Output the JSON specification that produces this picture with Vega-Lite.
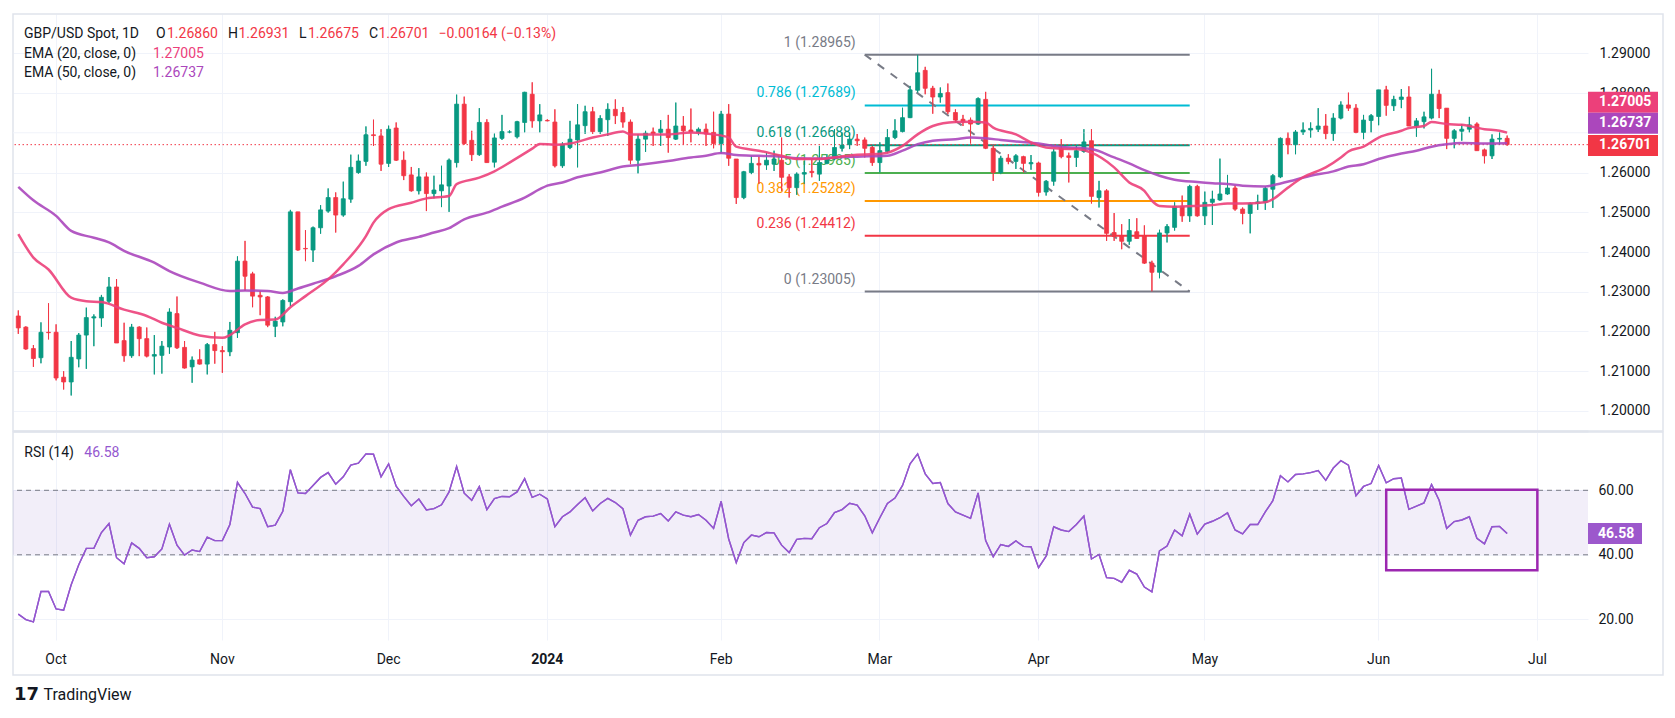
{
"$schema": "https://vega.github.io/schema/vega-lite/v6.json",
"background": "#ffffff",
"padding": {"left": 12, "top": 13, "right": 0, "bottom": 0},
"autosize": {"type": "pad"},
"config": {
  "view": {"stroke": null},
  "font": "Roboto",
  "axis": {"labelFont": "Roboto", "labelFontSize": 14, "labelColor": "#131722", "gridColor": "#f0f3fa", "gridWidth": 1, "ticks": false, "domain": false, "title": null},
  "text": {"font": "Roboto", "fontSize": 14, "baseline": "middle", "align": "left"}
},
"datasets": {
"px": [
{"d":"2023-09-25","o":1.2239,"h":1.2253,"l":1.2194,"c":1.2209,"r":21.6},
{"d":"2023-09-26","o":1.2211,"h":1.2213,"l":1.2154,"c":1.2156,"r":19.9},
{"d":"2023-09-27","o":1.2157,"h":1.2166,"l":1.2111,"c":1.2132,"r":19.2},
{"d":"2023-09-28","o":1.2134,"h":1.2223,"l":1.2120,"c":1.2198,"r":28.6},
{"d":"2023-09-29","o":1.2198,"h":1.2271,"l":1.2180,"c":1.2197,"r":28.6},
{"d":"2023-10-02","o":1.2198,"h":1.2218,"l":1.2077,"c":1.2083,"r":23.2},
{"d":"2023-10-03","o":1.2085,"h":1.2100,"l":1.2054,"c":1.2073,"r":22.8},
{"d":"2023-10-04","o":1.2073,"h":1.2176,"l":1.2039,"c":1.2135,"r":30.7},
{"d":"2023-10-05","o":1.2131,"h":1.2196,"l":1.2110,"c":1.2191,"r":36.9},
{"d":"2023-10-06","o":1.2191,"h":1.2260,"l":1.2106,"c":1.2235,"r":42.0},
{"d":"2023-10-09","o":1.2234,"h":1.2243,"l":1.2163,"c":1.2237,"r":42.0},
{"d":"2023-10-10","o":1.2234,"h":1.2292,"l":1.2212,"c":1.2286,"r":46.9},
{"d":"2023-10-11","o":1.2276,"h":1.2337,"l":1.2271,"c":1.2312,"r":49.7},
{"d":"2023-10-12","o":1.2312,"h":1.2332,"l":1.2171,"c":1.2171,"r":39.1},
{"d":"2023-10-13","o":1.2177,"h":1.2222,"l":1.2124,"c":1.2139,"r":37.2},
{"d":"2023-10-16","o":1.2139,"h":1.2219,"l":1.2134,"c":1.2211,"r":43.7},
{"d":"2023-10-17","o":1.2211,"h":1.2213,"l":1.2138,"c":1.2182,"r":42.0},
{"d":"2023-10-18","o":1.2182,"h":1.2210,"l":1.2135,"c":1.2138,"r":39.1},
{"d":"2023-10-19","o":1.2138,"h":1.2191,"l":1.2092,"c":1.2142,"r":39.4},
{"d":"2023-10-20","o":1.2140,"h":1.2176,"l":1.2094,"c":1.2163,"r":41.8},
{"d":"2023-10-23","o":1.2161,"h":1.2258,"l":1.2144,"c":1.2249,"r":49.5},
{"d":"2023-10-24","o":1.2245,"h":1.2288,"l":1.2156,"c":1.2159,"r":43.0},
{"d":"2023-10-25","o":1.2160,"h":1.2176,"l":1.2107,"c":1.2108,"r":39.9},
{"d":"2023-10-26","o":1.2111,"h":1.2137,"l":1.2071,"c":1.2128,"r":41.5},
{"d":"2023-10-27","o":1.2129,"h":1.2155,"l":1.2117,"c":1.2118,"r":41.0},
{"d":"2023-10-30","o":1.2118,"h":1.2171,"l":1.2092,"c":1.2167,"r":45.5},
{"d":"2023-10-31","o":1.2167,"h":1.2199,"l":1.2119,"c":1.2152,"r":44.4},
{"d":"2023-11-01","o":1.2152,"h":1.2163,"l":1.2096,"c":1.2149,"r":44.4},
{"d":"2023-11-02","o":1.2149,"h":1.2224,"l":1.2138,"c":1.2203,"r":49.4},
{"d":"2023-11-03","o":1.2197,"h":1.2389,"l":1.2184,"c":1.2377,"r":62.5},
{"d":"2023-11-06","o":1.2377,"h":1.2428,"l":1.2302,"c":1.2339,"r":59.0},
{"d":"2023-11-07","o":1.2345,"h":1.2350,"l":1.2261,"c":1.2289,"r":54.8},
{"d":"2023-11-08","o":1.2291,"h":1.2302,"l":1.2241,"c":1.2287,"r":54.3},
{"d":"2023-11-09","o":1.2287,"h":1.2289,"l":1.2211,"c":1.2216,"r":48.7},
{"d":"2023-11-10","o":1.2213,"h":1.2237,"l":1.2186,"c":1.2226,"r":49.2},
{"d":"2023-11-13","o":1.2224,"h":1.2281,"l":1.2213,"c":1.2278,"r":53.5},
{"d":"2023-11-14","o":1.2275,"h":1.2506,"l":1.2264,"c":1.2501,"r":66.4},
{"d":"2023-11-15","o":1.2501,"h":1.2501,"l":1.2403,"c":1.2405,"r":59.2},
{"d":"2023-11-16","o":1.2409,"h":1.2455,"l":1.2377,"c":1.2408,"r":59.0},
{"d":"2023-11-17","o":1.2405,"h":1.2464,"l":1.2375,"c":1.2461,"r":61.5},
{"d":"2023-11-20","o":1.2461,"h":1.2518,"l":1.2446,"c":1.2506,"r":64.0},
{"d":"2023-11-21","o":1.2503,"h":1.2560,"l":1.2499,"c":1.2537,"r":65.5},
{"d":"2023-11-22","o":1.2537,"h":1.2550,"l":1.2449,"c":1.2493,"r":61.9},
{"d":"2023-11-23","o":1.2493,"h":1.2577,"l":1.2489,"c":1.2534,"r":64.2},
{"d":"2023-11-24","o":1.2533,"h":1.2645,"l":1.2524,"c":1.2613,"r":67.8},
{"d":"2023-11-27","o":1.2600,"h":1.2645,"l":1.2597,"c":1.2629,"r":68.4},
{"d":"2023-11-28","o":1.2628,"h":1.2716,"l":1.2617,"c":1.2695,"r":71.3},
{"d":"2023-11-29","o":1.2695,"h":1.2733,"l":1.2667,"c":1.2693,"r":71.2},
{"d":"2023-11-30","o":1.2692,"h":1.2709,"l":1.2604,"c":1.2621,"r":64.2},
{"d":"2023-12-01","o":1.2623,"h":1.2718,"l":1.2614,"c":1.2709,"r":68.2},
{"d":"2023-12-04","o":1.2712,"h":1.2726,"l":1.2629,"c":1.2631,"r":61.3},
{"d":"2023-12-05","o":1.2631,"h":1.2653,"l":1.2581,"c":1.2592,"r":58.1},
{"d":"2023-12-06","o":1.2594,"h":1.2614,"l":1.2552,"c":1.2554,"r":55.2},
{"d":"2023-12-07","o":1.2554,"h":1.2611,"l":1.2545,"c":1.2589,"r":57.3},
{"d":"2023-12-08","o":1.2589,"h":1.2600,"l":1.2503,"c":1.2547,"r":53.9},
{"d":"2023-12-11","o":1.2547,"h":1.2592,"l":1.2535,"c":1.2556,"r":54.3},
{"d":"2023-12-12","o":1.2554,"h":1.2617,"l":1.2513,"c":1.2569,"r":55.5},
{"d":"2023-12-13","o":1.2566,"h":1.2635,"l":1.2501,"c":1.2631,"r":59.5},
{"d":"2023-12-14","o":1.2625,"h":1.2796,"l":1.2613,"c":1.2772,"r":67.4},
{"d":"2023-12-15","o":1.2772,"h":1.2791,"l":1.2670,"c":1.2673,"r":59.1},
{"d":"2023-12-18","o":1.2681,"h":1.2705,"l":1.2629,"c":1.2645,"r":56.9},
{"d":"2023-12-19","o":1.2645,"h":1.2762,"l":1.2642,"c":1.2726,"r":61.2},
{"d":"2023-12-20","o":1.2726,"h":1.2734,"l":1.2625,"c":1.2625,"r":54.0},
{"d":"2023-12-21","o":1.2626,"h":1.2698,"l":1.2613,"c":1.2687,"r":57.4},
{"d":"2023-12-22","o":1.2686,"h":1.2745,"l":1.2682,"c":1.2703,"r":58.1},
{"d":"2023-12-25","o":1.2702,"h":1.2706,"l":1.2699,"c":1.2702,"r":58.0},
{"d":"2023-12-26","o":1.2690,"h":1.2730,"l":1.2686,"c":1.2728,"r":59.5},
{"d":"2023-12-27","o":1.2726,"h":1.2803,"l":1.2701,"c":1.2802,"r":63.6},
{"d":"2023-12-28","o":1.2797,"h":1.2827,"l":1.2713,"c":1.2730,"r":57.8},
{"d":"2023-12-29","o":1.2730,"h":1.2772,"l":1.2701,"c":1.2745,"r":58.8},
{"d":"2024-01-01","o":1.2731,"h":1.2734,"l":1.2729,"c":1.2730,"r":57.3},
{"d":"2024-01-02","o":1.2727,"h":1.2759,"l":1.2613,"c":1.2617,"r":48.7},
{"d":"2024-01-03","o":1.2617,"h":1.2676,"l":1.2612,"c":1.2671,"r":51.8},
{"d":"2024-01-04","o":1.2663,"h":1.2730,"l":1.2659,"c":1.2684,"r":53.3},
{"d":"2024-01-05","o":1.2682,"h":1.2772,"l":1.2613,"c":1.2720,"r":55.6},
{"d":"2024-01-08","o":1.2718,"h":1.2768,"l":1.2697,"c":1.2753,"r":57.7},
{"d":"2024-01-09","o":1.2753,"h":1.2765,"l":1.2697,"c":1.2703,"r":53.6},
{"d":"2024-01-10","o":1.2703,"h":1.2744,"l":1.2697,"c":1.2736,"r":55.9},
{"d":"2024-01-11","o":1.2733,"h":1.2774,"l":1.2692,"c":1.2759,"r":57.5},
{"d":"2024-01-12","o":1.2759,"h":1.2784,"l":1.2722,"c":1.2743,"r":56.2},
{"d":"2024-01-15","o":1.2751,"h":1.2765,"l":1.2713,"c":1.2727,"r":54.3},
{"d":"2024-01-16","o":1.2727,"h":1.2733,"l":1.2621,"c":1.2631,"r":46.1},
{"d":"2024-01-17","o":1.2631,"h":1.2696,"l":1.2598,"c":1.2684,"r":50.7},
{"d":"2024-01-18","o":1.2684,"h":1.2705,"l":1.2652,"c":1.2699,"r":51.8},
{"d":"2024-01-19","o":1.2702,"h":1.2713,"l":1.2667,"c":1.2698,"r":52.0},
{"d":"2024-01-22","o":1.2701,"h":1.2732,"l":1.2667,"c":1.2709,"r":52.8},
{"d":"2024-01-23","o":1.2709,"h":1.2745,"l":1.2650,"c":1.2688,"r":50.5},
{"d":"2024-01-24","o":1.2684,"h":1.2776,"l":1.2682,"c":1.2717,"r":53.3},
{"d":"2024-01-25","o":1.2717,"h":1.2742,"l":1.2671,"c":1.2705,"r":52.3},
{"d":"2024-01-26","o":1.2707,"h":1.2761,"l":1.2676,"c":1.2702,"r":51.8},
{"d":"2024-01-29","o":1.2701,"h":1.2713,"l":1.2694,"c":1.2709,"r":52.5},
{"d":"2024-01-30","o":1.2709,"h":1.2723,"l":1.2667,"c":1.2697,"r":50.7},
{"d":"2024-01-31","o":1.2701,"h":1.2753,"l":1.2661,"c":1.2673,"r":48.2},
{"d":"2024-02-01","o":1.2673,"h":1.2755,"l":1.2648,"c":1.2747,"r":56.6},
{"d":"2024-02-02","o":1.2747,"h":1.2772,"l":1.2617,"c":1.2636,"r":44.9},
{"d":"2024-02-05","o":1.2634,"h":1.2634,"l":1.2521,"c":1.2537,"r":37.6},
{"d":"2024-02-06","o":1.2537,"h":1.2604,"l":1.2533,"c":1.2602,"r":43.8},
{"d":"2024-02-07","o":1.2600,"h":1.2642,"l":1.2596,"c":1.2623,"r":46.1},
{"d":"2024-02-08","o":1.2623,"h":1.2640,"l":1.2571,"c":1.2619,"r":45.6},
{"d":"2024-02-09","o":1.2619,"h":1.2650,"l":1.2607,"c":1.2631,"r":46.9},
{"d":"2024-02-12","o":1.2621,"h":1.2655,"l":1.2604,"c":1.2634,"r":46.8},
{"d":"2024-02-13","o":1.2631,"h":1.2688,"l":1.2554,"c":1.2588,"r":43.0},
{"d":"2024-02-14","o":1.2589,"h":1.2596,"l":1.2537,"c":1.2562,"r":40.7},
{"d":"2024-02-15","o":1.2562,"h":1.2600,"l":1.2544,"c":1.2596,"r":44.8},
{"d":"2024-02-16","o":1.2596,"h":1.2629,"l":1.2571,"c":1.2600,"r":45.1},
{"d":"2024-02-19","o":1.2603,"h":1.2636,"l":1.2588,"c":1.2600,"r":45.0},
{"d":"2024-02-20","o":1.2596,"h":1.2667,"l":1.2579,"c":1.2625,"r":48.4},
{"d":"2024-02-21","o":1.2623,"h":1.2646,"l":1.2621,"c":1.2634,"r":49.7},
{"d":"2024-02-22","o":1.2634,"h":1.2709,"l":1.2631,"c":1.2663,"r":53.1},
{"d":"2024-02-23","o":1.2661,"h":1.2701,"l":1.2653,"c":1.2669,"r":54.0},
{"d":"2024-02-26","o":1.2670,"h":1.2701,"l":1.2659,"c":1.2684,"r":56.0},
{"d":"2024-02-27","o":1.2684,"h":1.2697,"l":1.2667,"c":1.2680,"r":55.4},
{"d":"2024-02-28","o":1.2682,"h":1.2688,"l":1.2638,"c":1.2661,"r":52.1},
{"d":"2024-02-29","o":1.2663,"h":1.2667,"l":1.2617,"c":1.2625,"r":46.8},
{"d":"2024-03-01","o":1.2625,"h":1.2676,"l":1.2600,"c":1.2655,"r":51.5},
{"d":"2024-03-04","o":1.2653,"h":1.2709,"l":1.2650,"c":1.2688,"r":55.9},
{"d":"2024-03-05","o":1.2688,"h":1.2734,"l":1.2684,"c":1.2705,"r":57.6},
{"d":"2024-03-06","o":1.2703,"h":1.2763,"l":1.2701,"c":1.2738,"r":61.5},
{"d":"2024-03-07","o":1.2738,"h":1.2818,"l":1.2737,"c":1.2808,"r":68.2},
{"d":"2024-03-08","o":1.2807,"h":1.28965,"l":1.2801,"c":1.2851,"r":71.3},
{"d":"2024-03-11","o":1.2857,"h":1.2866,"l":1.2797,"c":1.2812,"r":65.1},
{"d":"2024-03-12","o":1.2812,"h":1.2818,"l":1.2748,"c":1.2790,"r":62.1},
{"d":"2024-03-13","o":1.2790,"h":1.2814,"l":1.2776,"c":1.2799,"r":62.4},
{"d":"2024-03-14","o":1.2801,"h":1.2824,"l":1.2747,"c":1.2753,"r":55.9},
{"d":"2024-03-15","o":1.2751,"h":1.2759,"l":1.2726,"c":1.2732,"r":53.3},
{"d":"2024-03-18","o":1.2734,"h":1.2745,"l":1.2717,"c":1.2727,"r":52.3},
{"d":"2024-03-19","o":1.2732,"h":1.2738,"l":1.2673,"c":1.2722,"r":51.3},
{"d":"2024-03-20","o":1.2722,"h":1.2789,"l":1.2720,"c":1.2786,"r":59.2},
{"d":"2024-03-21","o":1.2784,"h":1.2803,"l":1.2659,"c":1.2661,"r":44.4},
{"d":"2024-03-22","o":1.2661,"h":1.2671,"l":1.2579,"c":1.2600,"r":39.4},
{"d":"2024-03-25","o":1.2600,"h":1.2642,"l":1.2596,"c":1.2636,"r":43.2},
{"d":"2024-03-26","o":1.2636,"h":1.2646,"l":1.2621,"c":1.2628,"r":42.6},
{"d":"2024-03-27","o":1.2628,"h":1.2646,"l":1.2609,"c":1.2642,"r":44.3},
{"d":"2024-03-28","o":1.2640,"h":1.2642,"l":1.2600,"c":1.2623,"r":42.6},
{"d":"2024-03-29","o":1.2622,"h":1.2644,"l":1.2607,"c":1.2625,"r":42.5},
{"d":"2024-04-01","o":1.2624,"h":1.2627,"l":1.2540,"c":1.2550,"r":36.0},
{"d":"2024-04-02","o":1.2551,"h":1.2581,"l":1.2542,"c":1.2578,"r":39.6},
{"d":"2024-04-03","o":1.2578,"h":1.2659,"l":1.2567,"c":1.2652,"r":48.7},
{"d":"2024-04-04","o":1.2660,"h":1.2684,"l":1.2636,"c":1.2640,"r":47.7},
{"d":"2024-04-05","o":1.2642,"h":1.2650,"l":1.2575,"c":1.2638,"r":47.2},
{"d":"2024-04-08","o":1.2638,"h":1.2667,"l":1.2614,"c":1.2655,"r":49.4},
{"d":"2024-04-09","o":1.2653,"h":1.2709,"l":1.2650,"c":1.2677,"r":52.0},
{"d":"2024-04-10","o":1.2680,"h":1.2709,"l":1.2522,"c":1.2540,"r":38.7},
{"d":"2024-04-11","o":1.2537,"h":1.2579,"l":1.2512,"c":1.2554,"r":40.1},
{"d":"2024-04-12","o":1.2554,"h":1.2558,"l":1.2428,"c":1.2447,"r":32.9},
{"d":"2024-04-15","o":1.2449,"h":1.2498,"l":1.2428,"c":1.2439,"r":32.7},
{"d":"2024-04-16","o":1.2441,"h":1.2470,"l":1.2407,"c":1.2427,"r":31.5},
{"d":"2024-04-17","o":1.2427,"h":1.2483,"l":1.2418,"c":1.2454,"r":35.2},
{"d":"2024-04-18","o":1.2451,"h":1.2485,"l":1.2434,"c":1.2434,"r":34.0},
{"d":"2024-04-19","o":1.2441,"h":1.2467,"l":1.2370,"c":1.2372,"r":30.0},
{"d":"2024-04-22","o":1.2372,"h":1.2378,"l":1.23005,"c":1.2349,"r":28.5},
{"d":"2024-04-23","o":1.2349,"h":1.2456,"l":1.2334,"c":1.2448,"r":41.2},
{"d":"2024-04-24","o":1.2448,"h":1.2470,"l":1.2424,"c":1.2464,"r":42.7},
{"d":"2024-04-25","o":1.2462,"h":1.2525,"l":1.2454,"c":1.2515,"r":47.7},
{"d":"2024-04-26","o":1.2515,"h":1.2542,"l":1.2476,"c":1.2491,"r":45.9},
{"d":"2024-04-29","o":1.2491,"h":1.2569,"l":1.2476,"c":1.2565,"r":52.6},
{"d":"2024-04-30","o":1.2565,"h":1.2569,"l":1.2489,"c":1.2491,"r":46.4},
{"d":"2024-05-01","o":1.2491,"h":1.2552,"l":1.2468,"c":1.2525,"r":49.5},
{"d":"2024-05-02","o":1.2525,"h":1.2554,"l":1.2468,"c":1.2533,"r":50.4},
{"d":"2024-05-03","o":1.2531,"h":1.2635,"l":1.2529,"c":1.2546,"r":51.5},
{"d":"2024-05-06","o":1.2546,"h":1.2594,"l":1.2544,"c":1.2561,"r":53.0},
{"d":"2024-05-07","o":1.2561,"h":1.2567,"l":1.2504,"c":1.2508,"r":47.7},
{"d":"2024-05-08","o":1.2508,"h":1.2512,"l":1.2470,"c":1.2497,"r":46.5},
{"d":"2024-05-09","o":1.2497,"h":1.2525,"l":1.2447,"c":1.2522,"r":49.4},
{"d":"2024-05-10","o":1.2522,"h":1.2544,"l":1.2506,"c":1.2526,"r":49.4},
{"d":"2024-05-13","o":1.2525,"h":1.2565,"l":1.2506,"c":1.2560,"r":53.3},
{"d":"2024-05-14","o":1.2558,"h":1.2596,"l":1.2511,"c":1.2592,"r":56.8},
{"d":"2024-05-15","o":1.2589,"h":1.2688,"l":1.2586,"c":1.2686,"r":64.5},
{"d":"2024-05-16","o":1.2686,"h":1.2701,"l":1.2646,"c":1.2670,"r":62.6},
{"d":"2024-05-17","o":1.2670,"h":1.2707,"l":1.2646,"c":1.2702,"r":64.9},
{"d":"2024-05-20","o":1.2702,"h":1.2726,"l":1.2695,"c":1.2707,"r":65.1},
{"d":"2024-05-21","o":1.2707,"h":1.2726,"l":1.2688,"c":1.2711,"r":65.5},
{"d":"2024-05-22","o":1.2709,"h":1.2762,"l":1.2702,"c":1.2717,"r":66.1},
{"d":"2024-05-23","o":1.2717,"h":1.2747,"l":1.2684,"c":1.2698,"r":63.1},
{"d":"2024-05-24","o":1.2698,"h":1.2749,"l":1.2680,"c":1.2737,"r":66.9},
{"d":"2024-05-27","o":1.2737,"h":1.2779,"l":1.2734,"c":1.2770,"r":69.2},
{"d":"2024-05-28","o":1.2770,"h":1.2801,"l":1.2755,"c":1.2762,"r":67.8},
{"d":"2024-05-29","o":1.2762,"h":1.2772,"l":1.2699,"c":1.2701,"r":58.3},
{"d":"2024-05-30","o":1.2701,"h":1.2745,"l":1.2684,"c":1.2732,"r":61.2},
{"d":"2024-05-31","o":1.2731,"h":1.2747,"l":1.2701,"c":1.2743,"r":62.1},
{"d":"2024-06-03","o":1.2741,"h":1.2808,"l":1.2719,"c":1.2808,"r":67.7},
{"d":"2024-06-04","o":1.2808,"h":1.2818,"l":1.2743,"c":1.2769,"r":62.3},
{"d":"2024-06-05","o":1.2768,"h":1.2793,"l":1.2755,"c":1.2784,"r":63.6},
{"d":"2024-06-06","o":1.2784,"h":1.2810,"l":1.2762,"c":1.2790,"r":63.8},
{"d":"2024-06-07","o":1.2790,"h":1.2817,"l":1.2717,"c":1.2717,"r":54.1},
{"d":"2024-06-10","o":1.2717,"h":1.2737,"l":1.2690,"c":1.2730,"r":55.1},
{"d":"2024-06-11","o":1.2728,"h":1.2753,"l":1.2711,"c":1.2740,"r":56.1},
{"d":"2024-06-12","o":1.2737,"h":1.2861,"l":1.2734,"c":1.2797,"r":61.8},
{"d":"2024-06-13","o":1.2797,"h":1.2808,"l":1.2737,"c":1.2761,"r":56.9},
{"d":"2024-06-14","o":1.2762,"h":1.2762,"l":1.2659,"c":1.2686,"r":48.2},
{"d":"2024-06-17","o":1.2686,"h":1.2709,"l":1.2661,"c":1.2705,"r":50.3},
{"d":"2024-06-18","o":1.2704,"h":1.2722,"l":1.2680,"c":1.2709,"r":50.8},
{"d":"2024-06-19","o":1.2709,"h":1.2740,"l":1.2701,"c":1.2720,"r":51.8},
{"d":"2024-06-20","o":1.2722,"h":1.2726,"l":1.2655,"c":1.2655,"r":45.1},
{"d":"2024-06-21","o":1.2657,"h":1.2660,"l":1.2623,"c":1.2642,"r":43.4},
{"d":"2024-06-24","o":1.2642,"h":1.2696,"l":1.2634,"c":1.2684,"r":48.7},
{"d":"2024-06-25","o":1.2684,"h":1.2701,"l":1.2670,"c":1.2686,"r":48.8},
{"d":"2024-06-26","o":1.2686,"h":1.26931,"l":1.26675,"c":1.26701,"r":46.58}
],
"ema": [
{"d":"2023-09-25","k":"EMA 50","v":1.2564},{"d":"2023-09-27","k":"EMA 50","v":1.2530},{"d":"2023-10-02","k":"EMA 50","v":1.2491},{"d":"2023-10-04","k":"EMA 50","v":1.2453},{"d":"2023-10-09","k":"EMA 50","v":1.2436},{"d":"2023-10-11","k":"EMA 50","v":1.2424},{"d":"2023-10-13","k":"EMA 50","v":1.2403},{"d":"2023-10-19","k":"EMA 50","v":1.2373},{"d":"2023-10-23","k":"EMA 50","v":1.2352},{"d":"2023-10-27","k":"EMA 50","v":1.2323},{"d":"2023-11-02","k":"EMA 50","v":1.2302},{"d":"2023-11-06","k":"EMA 50","v":1.2303},{"d":"2023-11-09","k":"EMA 50","v":1.2302},{"d":"2023-11-13","k":"EMA 50","v":1.2297},{"d":"2023-11-15","k":"EMA 50","v":1.2308},{"d":"2023-11-17","k":"EMA 50","v":1.2320},{"d":"2023-11-22","k":"EMA 50","v":1.2339},{"d":"2023-11-27","k":"EMA 50","v":1.2365},{"d":"2023-11-29","k":"EMA 50","v":1.2394},{"d":"2023-12-04","k":"EMA 50","v":1.2424},{"d":"2023-12-07","k":"EMA 50","v":1.2438},{"d":"2023-12-11","k":"EMA 50","v":1.2449},{"d":"2023-12-13","k":"EMA 50","v":1.2460},{"d":"2023-12-15","k":"EMA 50","v":1.2482},{"d":"2023-12-20","k":"EMA 50","v":1.2499},{"d":"2023-12-22","k":"EMA 50","v":1.2514},{"d":"2023-12-27","k":"EMA 50","v":1.2537},{"d":"2023-12-29","k":"EMA 50","v":1.2558},{"d":"2024-01-01","k":"EMA 50","v":1.2567},{"d":"2024-01-03","k":"EMA 50","v":1.2575},{"d":"2024-01-05","k":"EMA 50","v":1.2588},{"d":"2024-01-10","k":"EMA 50","v":1.2600},{"d":"2024-01-15","k":"EMA 50","v":1.2615},{"d":"2024-01-17","k":"EMA 50","v":1.2619},{"d":"2024-01-23","k":"EMA 50","v":1.2629},{"d":"2024-01-26","k":"EMA 50","v":1.2638},{"d":"2024-01-30","k":"EMA 50","v":1.2642},{"d":"2024-02-01","k":"EMA 50","v":1.2649},{"d":"2024-02-05","k":"EMA 50","v":1.2644},{"d":"2024-02-08","k":"EMA 50","v":1.2642},{"d":"2024-02-13","k":"EMA 50","v":1.2640},{"d":"2024-02-15","k":"EMA 50","v":1.2636},{"d":"2024-02-20","k":"EMA 50","v":1.2635},{"d":"2024-02-22","k":"EMA 50","v":1.2638},{"d":"2024-02-27","k":"EMA 50","v":1.2640},{"d":"2024-03-04","k":"EMA 50","v":1.2642},{"d":"2024-03-06","k":"EMA 50","v":1.2655},{"d":"2024-03-08","k":"EMA 50","v":1.2671},{"d":"2024-03-12","k":"EMA 50","v":1.2680},{"d":"2024-03-15","k":"EMA 50","v":1.2684},{"d":"2024-03-19","k":"EMA 50","v":1.2688},{"d":"2024-03-21","k":"EMA 50","v":1.2686},{"d":"2024-03-25","k":"EMA 50","v":1.2682},{"d":"2024-03-27","k":"EMA 50","v":1.2678},{"d":"2024-04-01","k":"EMA 50","v":1.2673},{"d":"2024-04-03","k":"EMA 50","v":1.2667},{"d":"2024-04-05","k":"EMA 50","v":1.2663},{"d":"2024-04-09","k":"EMA 50","v":1.2661},{"d":"2024-04-10","k":"EMA 50","v":1.2659},{"d":"2024-04-15","k":"EMA 50","v":1.2638},{"d":"2024-04-17","k":"EMA 50","v":1.2623},{"d":"2024-04-19","k":"EMA 50","v":1.2606},{"d":"2024-04-23","k":"EMA 50","v":1.2592},{"d":"2024-04-25","k":"EMA 50","v":1.2582},{"d":"2024-04-30","k":"EMA 50","v":1.2576},{"d":"2024-05-02","k":"EMA 50","v":1.2573},{"d":"2024-05-06","k":"EMA 50","v":1.2571},{"d":"2024-05-08","k":"EMA 50","v":1.2567},{"d":"2024-05-13","k":"EMA 50","v":1.2565},{"d":"2024-05-14","k":"EMA 50","v":1.2568},{"d":"2024-05-17","k":"EMA 50","v":1.2582},{"d":"2024-05-21","k":"EMA 50","v":1.2592},{"d":"2024-05-24","k":"EMA 50","v":1.2603},{"d":"2024-05-28","k":"EMA 50","v":1.2615},{"d":"2024-05-30","k":"EMA 50","v":1.2621},{"d":"2024-06-03","k":"EMA 50","v":1.2634},{"d":"2024-06-06","k":"EMA 50","v":1.2648},{"d":"2024-06-10","k":"EMA 50","v":1.2655},{"d":"2024-06-12","k":"EMA 50","v":1.2665},{"d":"2024-06-14","k":"EMA 50","v":1.2671},{"d":"2024-06-18","k":"EMA 50","v":1.2674},{"d":"2024-06-21","k":"EMA 50","v":1.2673},{"d":"2024-06-26","k":"EMA 50","v":1.26737},
{"d":"2023-09-25","k":"EMA 20","v":1.2445},{"d":"2023-09-27","k":"EMA 20","v":1.2386},{"d":"2023-09-29","k":"EMA 20","v":1.2356},{"d":"2023-10-04","k":"EMA 20","v":1.2285},{"d":"2023-10-06","k":"EMA 20","v":1.2276},{"d":"2023-10-10","k":"EMA 20","v":1.2274},{"d":"2023-10-13","k":"EMA 20","v":1.2255},{"d":"2023-10-18","k":"EMA 20","v":1.2239},{"d":"2023-10-20","k":"EMA 20","v":1.2222},{"d":"2023-10-24","k":"EMA 20","v":1.2209},{"d":"2023-10-27","k":"EMA 20","v":1.2190},{"d":"2023-11-01","k":"EMA 20","v":1.2184},{"d":"2023-11-02","k":"EMA 20","v":1.2191},{"d":"2023-11-06","k":"EMA 20","v":1.2218},{"d":"2023-11-08","k":"EMA 20","v":1.2229},{"d":"2023-11-10","k":"EMA 20","v":1.2230},{"d":"2023-11-14","k":"EMA 20","v":1.2261},{"d":"2023-11-16","k":"EMA 20","v":1.2289},{"d":"2023-11-21","k":"EMA 20","v":1.2331},{"d":"2023-11-23","k":"EMA 20","v":1.2369},{"d":"2023-11-28","k":"EMA 20","v":1.2440},{"d":"2023-11-29","k":"EMA 20","v":1.2474},{"d":"2023-12-01","k":"EMA 20","v":1.2508},{"d":"2023-12-06","k":"EMA 20","v":1.2524},{"d":"2023-12-08","k":"EMA 20","v":1.2535},{"d":"2023-12-13","k":"EMA 20","v":1.2541},{"d":"2023-12-14","k":"EMA 20","v":1.2571},{"d":"2023-12-19","k":"EMA 20","v":1.2587},{"d":"2023-12-21","k":"EMA 20","v":1.2603},{"d":"2023-12-25","k":"EMA 20","v":1.2625},{"d":"2023-12-28","k":"EMA 20","v":1.2660},{"d":"2023-12-29","k":"EMA 20","v":1.2672},{"d":"2024-01-02","k":"EMA 20","v":1.2670},{"d":"2024-01-04","k":"EMA 20","v":1.2673},{"d":"2024-01-09","k":"EMA 20","v":1.2688},{"d":"2024-01-11","k":"EMA 20","v":1.2696},{"d":"2024-01-15","k":"EMA 20","v":1.2703},{"d":"2024-01-16","k":"EMA 20","v":1.2696},{"d":"2024-01-18","k":"EMA 20","v":1.2696},{"d":"2024-01-23","k":"EMA 20","v":1.2696},{"d":"2024-01-26","k":"EMA 20","v":1.2701},{"d":"2024-01-31","k":"EMA 20","v":1.2696},{"d":"2024-02-02","k":"EMA 20","v":1.2688},{"d":"2024-02-05","k":"EMA 20","v":1.2665},{"d":"2024-02-08","k":"EMA 20","v":1.2655},{"d":"2024-02-13","k":"EMA 20","v":1.2642},{"d":"2024-02-15","k":"EMA 20","v":1.2634},{"d":"2024-02-20","k":"EMA 20","v":1.2634},{"d":"2024-02-22","k":"EMA 20","v":1.2638},{"d":"2024-02-27","k":"EMA 20","v":1.2645},{"d":"2024-02-29","k":"EMA 20","v":1.2646},{"d":"2024-03-04","k":"EMA 20","v":1.2650},{"d":"2024-03-06","k":"EMA 20","v":1.2667},{"d":"2024-03-08","k":"EMA 20","v":1.2696},{"d":"2024-03-12","k":"EMA 20","v":1.2717},{"d":"2024-03-15","k":"EMA 20","v":1.2727},{"d":"2024-03-19","k":"EMA 20","v":1.2728},{"d":"2024-03-21","k":"EMA 20","v":1.2726},{"d":"2024-03-22","k":"EMA 20","v":1.2713},{"d":"2024-03-27","k":"EMA 20","v":1.2696},{"d":"2024-03-29","k":"EMA 20","v":1.2676},{"d":"2024-04-02","k":"EMA 20","v":1.2663},{"d":"2024-04-04","k":"EMA 20","v":1.2660},{"d":"2024-04-08","k":"EMA 20","v":1.2659},{"d":"2024-04-10","k":"EMA 20","v":1.2650},{"d":"2024-04-15","k":"EMA 20","v":1.2613},{"d":"2024-04-17","k":"EMA 20","v":1.2575},{"d":"2024-04-19","k":"EMA 20","v":1.2554},{"d":"2024-04-22","k":"EMA 20","v":1.2529},{"d":"2024-04-23","k":"EMA 20","v":1.2516},{"d":"2024-04-25","k":"EMA 20","v":1.2514},{"d":"2024-04-30","k":"EMA 20","v":1.2516},{"d":"2024-05-02","k":"EMA 20","v":1.2518},{"d":"2024-05-06","k":"EMA 20","v":1.2522},{"d":"2024-05-08","k":"EMA 20","v":1.2522},{"d":"2024-05-13","k":"EMA 20","v":1.2525},{"d":"2024-05-14","k":"EMA 20","v":1.2533},{"d":"2024-05-16","k":"EMA 20","v":1.2562},{"d":"2024-05-20","k":"EMA 20","v":1.2588},{"d":"2024-05-23","k":"EMA 20","v":1.2613},{"d":"2024-05-27","k":"EMA 20","v":1.2638},{"d":"2024-05-28","k":"EMA 20","v":1.2653},{"d":"2024-05-30","k":"EMA 20","v":1.2665},{"d":"2024-06-03","k":"EMA 20","v":1.2688},{"d":"2024-06-06","k":"EMA 20","v":1.2705},{"d":"2024-06-07","k":"EMA 20","v":1.2712},{"d":"2024-06-11","k":"EMA 20","v":1.2717},{"d":"2024-06-12","k":"EMA 20","v":1.2727},{"d":"2024-06-14","k":"EMA 20","v":1.2722},{"d":"2024-06-18","k":"EMA 20","v":1.2720},{"d":"2024-06-21","k":"EMA 20","v":1.2709},{"d":"2024-06-25","k":"EMA 20","v":1.2705},{"d":"2024-06-26","k":"EMA 20","v":1.27005}
],
"fib": [
{"lvl":"1","p":1.28965,"t":"1 (1.28965)"},
{"lvl":"0.786","p":1.27689,"t":"0.786 (1.27689)"},
{"lvl":"0.618","p":1.26688,"t":"0.618 (1.26688)"},
{"lvl":"0.5","p":1.25985,"t":"0.5 (1.25985)"},
{"lvl":"0.382","p":1.25282,"t":"0.382 (1.25282)"},
{"lvl":"0.236","p":1.24412,"t":"0.236 (1.24412)"},
{"lvl":"0","p":1.23005,"t":"0 (1.23005)"}
]
},
"spacing": -2,
"resolve": {"scale": {"x": "shared"}},
"vconcat": [
{
"width": 1575, "height": 417,
"layer": [
{"data": {"values": [{}]}, "mark": {"type": "rect", "fillOpacity": 0, "stroke": "#e0e3eb", "strokeWidth": 1.5, "x2Offset": 75},
 "encoding": {"x": {"value": 0}, "x2": {"value": "width"}, "y": {"value": 0}, "y2": {"value": "height"}}},
{"data": {"name": "px"}, "mark": {"type": "rule", "strokeWidth": 1},
 "encoding": {
  "x": {"field": "d", "type": "ordinal",
    "scale": {"type": "band", "paddingInner": 0, "paddingOuter": 0.2, "domain": ["2023-09-25","2023-09-26","2023-09-27","2023-09-28","2023-09-29","2023-10-02","2023-10-03","2023-10-04","2023-10-05","2023-10-06","2023-10-09","2023-10-10","2023-10-11","2023-10-12","2023-10-13","2023-10-16","2023-10-17","2023-10-18","2023-10-19","2023-10-20","2023-10-23","2023-10-24","2023-10-25","2023-10-26","2023-10-27","2023-10-30","2023-10-31","2023-11-01","2023-11-02","2023-11-03","2023-11-06","2023-11-07","2023-11-08","2023-11-09","2023-11-10","2023-11-13","2023-11-14","2023-11-15","2023-11-16","2023-11-17","2023-11-20","2023-11-21","2023-11-22","2023-11-23","2023-11-24","2023-11-27","2023-11-28","2023-11-29","2023-11-30","2023-12-01","2023-12-04","2023-12-05","2023-12-06","2023-12-07","2023-12-08","2023-12-11","2023-12-12","2023-12-13","2023-12-14","2023-12-15","2023-12-18","2023-12-19","2023-12-20","2023-12-21","2023-12-22","2023-12-25","2023-12-26","2023-12-27","2023-12-28","2023-12-29","2024-01-01","2024-01-02","2024-01-03","2024-01-04","2024-01-05","2024-01-08","2024-01-09","2024-01-10","2024-01-11","2024-01-12","2024-01-15","2024-01-16","2024-01-17","2024-01-18","2024-01-19","2024-01-22","2024-01-23","2024-01-24","2024-01-25","2024-01-26","2024-01-29","2024-01-30","2024-01-31","2024-02-01","2024-02-02","2024-02-05","2024-02-06","2024-02-07","2024-02-08","2024-02-09","2024-02-12","2024-02-13","2024-02-14","2024-02-15","2024-02-16","2024-02-19","2024-02-20","2024-02-21","2024-02-22","2024-02-23","2024-02-26","2024-02-27","2024-02-28","2024-02-29","2024-03-01","2024-03-04","2024-03-05","2024-03-06","2024-03-07","2024-03-08","2024-03-11","2024-03-12","2024-03-13","2024-03-14","2024-03-15","2024-03-18","2024-03-19","2024-03-20","2024-03-21","2024-03-22","2024-03-25","2024-03-26","2024-03-27","2024-03-28","2024-03-29","2024-04-01","2024-04-02","2024-04-03","2024-04-04","2024-04-05","2024-04-08","2024-04-09","2024-04-10","2024-04-11","2024-04-12","2024-04-15","2024-04-16","2024-04-17","2024-04-18","2024-04-19","2024-04-22","2024-04-23","2024-04-24","2024-04-25","2024-04-26","2024-04-29","2024-04-30","2024-05-01","2024-05-02","2024-05-03","2024-05-06","2024-05-07","2024-05-08","2024-05-09","2024-05-10","2024-05-13","2024-05-14","2024-05-15","2024-05-16","2024-05-17","2024-05-20","2024-05-21","2024-05-22","2024-05-23","2024-05-24","2024-05-27","2024-05-28","2024-05-29","2024-05-30","2024-05-31","2024-06-03","2024-06-04","2024-06-05","2024-06-06","2024-06-07","2024-06-10","2024-06-11","2024-06-12","2024-06-13","2024-06-14","2024-06-17","2024-06-18","2024-06-19","2024-06-20","2024-06-21","2024-06-24","2024-06-25","2024-06-26","2024-06-27","2024-06-28","2024-07-01","2024-07-02","2024-07-03","2024-07-04","2024-07-05","2024-07-08","2024-07-09","2024-07-10"]},
    "axis": {"orient": "bottom", "labels": false, "grid": true, "bandPosition": 0.5, "domain": true, "domainColor": "#e0e3eb", "domainWidth": 2, "minExtent": 0, "maxExtent": 0,
      "values": ["2023-10-02","2023-11-01","2023-12-01","2024-01-01","2024-02-01","2024-03-01","2024-04-01","2024-05-01","2024-06-03","2024-07-02"]}},
  "y": {"field": "l", "type": "quantitative",
    "scale": {"domain": [1.19496, 1.29989], "zero": false, "nice": false},
    "axis": {"orient": "right", "grid": true, "format": ".5f", "labelPadding": 11,
      "values": [1.20, 1.21, 1.22, 1.23, 1.24, 1.25, 1.26, 1.28, 1.29]}},
  "y2": {"field": "h"},
  "color": {"condition": {"test": "datum.o > datum.c", "value": "#f23645"}, "value": "#089981"}
 }},
{"data": {"values": [{}]}, "mark": {"type": "rule", "color": "#f0f3fa", "strokeWidth": 1},
 "encoding": {"y": {"datum": 1.27, "type": "quantitative"}}},
{"data": {"name": "fib"}, "mark": {"type": "text", "align": "right", "dx": -9, "dy": -12, "fontSize": 14},
 "encoding": {
  "x": {"datum": "2024-02-28", "type": "ordinal", "bandPosition": 0.5},
  "y": {"field": "p", "type": "quantitative"},
  "text": {"field": "t"},
  "color": {"field": "lvl", "type": "nominal", "legend": null,
    "scale": {"domain": ["1","0.786","0.618","0.5","0.382","0.236","0"], "range": ["#787b86","#00bcd4","#089981","#4caf50","#ff9800","#f23645","#787b86"]}}
 }},
{"data": {"name": "fib"}, "mark": {"type": "rule", "strokeWidth": 2},
 "encoding": {
  "x": {"datum": "2024-02-28", "type": "ordinal", "bandPosition": 0.5},
  "x2": {"datum": "2024-04-29", "bandPosition": 0.5},
  "y": {"field": "p", "type": "quantitative"},
  "color": {"field": "lvl", "type": "nominal", "legend": null}
 }},
{"data": {"values": [{}]}, "mark": {"type": "rule", "strokeWidth": 2, "strokeDash": [8, 8], "color": "#787b86"},
 "encoding": {
  "x": {"datum": "2024-02-28", "type": "ordinal", "bandPosition": 0.5},
  "x2": {"datum": "2024-04-29", "bandPosition": 0.5},
  "y": {"datum": 1.28965, "type": "quantitative"},
  "y2": {"datum": 1.23005}
 }},
{"data": {"values": [{}]}, "mark": {"type": "rule", "strokeWidth": 1, "strokeDash": [1.5, 2.5], "color": "#f23645"},
 "encoding": {"y": {"datum": 1.26701, "type": "quantitative"}}},
{"data": {"name": "px"}, "mark": {"type": "rule", "strokeWidth": 1},
 "encoding": {
  "x": {"field": "d", "type": "ordinal"},
  "y": {"field": "l", "type": "quantitative"},
  "y2": {"field": "h"},
  "color": {"condition": {"test": "datum.o > datum.c", "value": "#f23645"}, "value": "#089981"}
 }},
{"data": {"name": "px"}, "mark": {"type": "bar", "width": 4, "strokeWidth": 0.8},
 "encoding": {
  "x": {"field": "d", "type": "ordinal"},
  "y": {"field": "o", "type": "quantitative"},
  "y2": {"field": "c"},
  "color": {"condition": {"test": "datum.o > datum.c", "value": "#f23645"}, "value": "#089981"},
  "stroke": {"condition": {"test": "datum.o > datum.c", "value": "#f23645"}, "value": "#089981"}
 }},
{"data": {"name": "ema"}, "mark": {"type": "line", "strokeWidth": 2.5, "opacity": 0.9, "interpolate": "monotone"},
 "encoding": {
  "x": {"field": "d", "type": "ordinal"},
  "y": {"field": "v", "type": "quantitative"},
  "stroke": {"field": "k", "type": "nominal", "legend": null, "scale": {"domain": ["EMA 20", "EMA 50"], "range": ["#ec407a", "#ab47bc"]}}
 }},
{"data": {"values": [{}]}, "mark": {"type": "text", "color": "#131722"}, "encoding": {"x": {"value": 11}, "y": {"value": 20}, "text": {"value": "GBP/USD Spot, 1D"}}},
{"data": {"values": [{}]}, "mark": {"type": "text", "color": "#131722"}, "encoding": {"x": {"value": 143}, "y": {"value": 20}, "text": {"value": "O"}}},
{"data": {"values": [{}]}, "mark": {"type": "text", "color": "#f23645"}, "encoding": {"x": {"value": 154}, "y": {"value": 20}, "text": {"value": "1.26860"}}},
{"data": {"values": [{}]}, "mark": {"type": "text", "color": "#131722"}, "encoding": {"x": {"value": 215}, "y": {"value": 20}, "text": {"value": "H"}}},
{"data": {"values": [{}]}, "mark": {"type": "text", "color": "#f23645"}, "encoding": {"x": {"value": 225.5}, "y": {"value": 20}, "text": {"value": "1.26931"}}},
{"data": {"values": [{}]}, "mark": {"type": "text", "color": "#131722"}, "encoding": {"x": {"value": 286}, "y": {"value": 20}, "text": {"value": "L"}}},
{"data": {"values": [{}]}, "mark": {"type": "text", "color": "#f23645"}, "encoding": {"x": {"value": 295}, "y": {"value": 20}, "text": {"value": "1.26675"}}},
{"data": {"values": [{}]}, "mark": {"type": "text", "color": "#131722"}, "encoding": {"x": {"value": 356}, "y": {"value": 20}, "text": {"value": "C"}}},
{"data": {"values": [{}]}, "mark": {"type": "text", "color": "#f23645"}, "encoding": {"x": {"value": 365.5}, "y": {"value": 20}, "text": {"value": "1.26701"}}},
{"data": {"values": [{}]}, "mark": {"type": "text", "color": "#f23645"}, "encoding": {"x": {"value": 425.5}, "y": {"value": 20}, "text": {"value": "−0.00164 (−0.13%)"}}},
{"data": {"values": [{}]}, "mark": {"type": "text", "color": "#131722"}, "encoding": {"x": {"value": 11}, "y": {"value": 39.5}, "text": {"value": "EMA (20, close, 0)"}}},
{"data": {"values": [{}]}, "mark": {"type": "text", "color": "#ec407a"}, "encoding": {"x": {"value": 140}, "y": {"value": 39.5}, "text": {"value": "1.27005"}}},
{"data": {"values": [{}]}, "mark": {"type": "text", "color": "#131722"}, "encoding": {"x": {"value": 11}, "y": {"value": 59}, "text": {"value": "EMA (50, close, 0)"}}},
{"data": {"values": [{}]}, "mark": {"type": "text", "color": "#ab47bc"}, "encoding": {"x": {"value": 140}, "y": {"value": 59}, "text": {"value": "1.26737"}}},
{"data": {"values": [{}]}, "mark": {"type": "rect", "color": "#ec407a", "x2Offset": 70, "yOffset": -40.9, "y2Offset": -19.9},
 "encoding": {"x": {"value": "width"}, "x2": {"value": "width"}, "y": {"datum": 1.27005, "type": "quantitative"}, "y2": {"datum": 1.27005}}},
{"data": {"values": [{}]}, "mark": {"type": "text", "color": "#ffffff", "fontWeight": "bold", "dx": 11, "dy": -30.4},
 "encoding": {"x": {"value": "width"}, "y": {"datum": 1.27005, "type": "quantitative"}, "text": {"value": "1.27005"}}},
{"data": {"values": [{}]}, "mark": {"type": "rect", "color": "#ab47bc", "x2Offset": 70, "yOffset": -30.5, "y2Offset": -9.5},
 "encoding": {"x": {"value": "width"}, "x2": {"value": "width"}, "y": {"datum": 1.26737, "type": "quantitative"}, "y2": {"datum": 1.26737}}},
{"data": {"values": [{}]}, "mark": {"type": "text", "color": "#ffffff", "fontWeight": "bold", "dx": 11, "dy": -20},
 "encoding": {"x": {"value": "width"}, "y": {"datum": 1.26737, "type": "quantitative"}, "text": {"value": "1.26737"}}},
{"data": {"values": [{}]}, "mark": {"type": "rect", "color": "#f23645", "x2Offset": 70, "yOffset": -9.7, "y2Offset": 11.3},
 "encoding": {"x": {"value": "width"}, "x2": {"value": "width"}, "y": {"datum": 1.26701, "type": "quantitative"}, "y2": {"datum": 1.26701}}},
{"data": {"values": [{}]}, "mark": {"type": "text", "color": "#ffffff", "fontWeight": "bold", "dx": 11, "dy": 0.8},
 "encoding": {"x": {"value": "width"}, "y": {"datum": 1.26701, "type": "quantitative"}, "text": {"value": "1.26701"}}}
]
},
{
"width": 1575, "height": 208,
"layer": [
{"data": {"values": [{}]}, "mark": {"type": "rect", "fillOpacity": 0, "stroke": "#e0e3eb", "strokeWidth": 1.5, "x2Offset": 75, "y2Offset": 35},
 "encoding": {"x": {"value": 0}, "x2": {"value": "width"}, "y": {"value": 0}, "y2": {"value": "height"}}},
{"data": {"name": "px"}, "mark": {"type": "line", "color": "#9457cf", "strokeWidth": 1.4},
 "encoding": {
  "x": {"field": "d", "type": "ordinal",
    "axis": {"orient": "bottom", "grid": true, "bandPosition": 0.5, "labelPadding": 12, "labelAngle": 0,
      "values": ["2023-10-02","2023-11-01","2023-12-01","2024-01-01","2024-02-01","2024-03-01","2024-04-01","2024-05-01","2024-06-03","2024-07-02"],
      "labelExpr": "['Oct','Nov','Dec','2024','Feb','Mar','Apr','May','Jun','Jul'][indexof(['2023-10-02','2023-11-01','2023-12-01','2024-01-01','2024-02-01','2024-03-01','2024-04-01','2024-05-01','2024-06-03','2024-07-02'], datum.value)]",
      "labelFontWeight": {"condition": {"test": "datum.value == '2024-01-01'", "value": "bold"}, "value": "normal"}}},
  "y": {"field": "r", "type": "quantitative",
    "scale": {"domain": [13.58, 78.08], "zero": false, "nice": false},
    "axis": {"orient": "right", "grid": true, "format": ".2f", "labelPadding": 10, "values": [20, 40, 60]}}
 }},
{"data": {"values": [{}]}, "mark": {"type": "rect", "color": "#7e57c2", "opacity": 0.1},
 "encoding": {"x": {"value": 0}, "x2": {"value": "width"}, "y": {"datum": 40, "type": "quantitative"}, "y2": {"datum": 60}}},
{"data": {"values": [{"v": 40}, {"v": 60}]}, "mark": {"type": "rule", "color": "#787b86", "strokeWidth": 1, "strokeDash": [5, 4]},
 "encoding": {"y": {"field": "v", "type": "quantitative"}}},
{"data": {"name": "px"}, "mark": {"type": "line", "color": "#9457cf", "strokeWidth": 1.4},
 "encoding": {"x": {"field": "d", "type": "ordinal"}, "y": {"field": "r", "type": "quantitative"}}},
{"data": {"values": [{}]}, "mark": {"type": "rect", "fillOpacity": 0, "stroke": "#9c27b0", "strokeWidth": 2.5},
 "encoding": {"x": {"datum": "2024-06-04", "type": "ordinal", "bandPosition": 0.5}, "x2": {"datum": "2024-07-02", "bandPosition": 0.5}, "y": {"datum": 35.2, "type": "quantitative"}, "y2": {"datum": 60.2}}},
{"data": {"values": [{}]}, "mark": {"type": "text", "color": "#131722"}, "encoding": {"x": {"value": 11.3}, "y": {"value": 21}, "text": {"value": "RSI (14)"}}},
{"data": {"values": [{}]}, "mark": {"type": "text", "color": "#9457cf"}, "encoding": {"x": {"value": 71.3}, "y": {"value": 21}, "text": {"value": "46.58"}}},
{"data": {"values": [{}]}, "mark": {"type": "rect", "color": "#9c58cc", "x2Offset": 54, "yOffset": -10.5, "y2Offset": 10.5},
 "encoding": {"x": {"value": "width"}, "x2": {"value": "width"}, "y": {"datum": 46.58, "type": "quantitative"}, "y2": {"datum": 46.58}}},
{"data": {"values": [{}]}, "mark": {"type": "text", "color": "#ffffff", "fontWeight": "bold", "dx": 10},
 "encoding": {"x": {"value": "width"}, "y": {"datum": 46.58, "type": "quantitative"}, "text": {"value": "46.58"}}},
{"data": {"values": [{}]}, "mark": {"type": "text", "color": "#131722", "fontWeight": "bold", "fontSize": 18, "font": "DejaVu Sans", "dy": 55},
 "encoding": {"x": {"value": 1}, "y": {"value": "height"}, "text": {"value": "17"}}},
{"data": {"values": [{}]}, "mark": {"type": "text", "color": "#131722", "fontSize": 16, "dy": 55},
 "encoding": {"x": {"value": 30.5}, "y": {"value": "height"}, "text": {"value": "TradingView"}}}
]
}
]
}
